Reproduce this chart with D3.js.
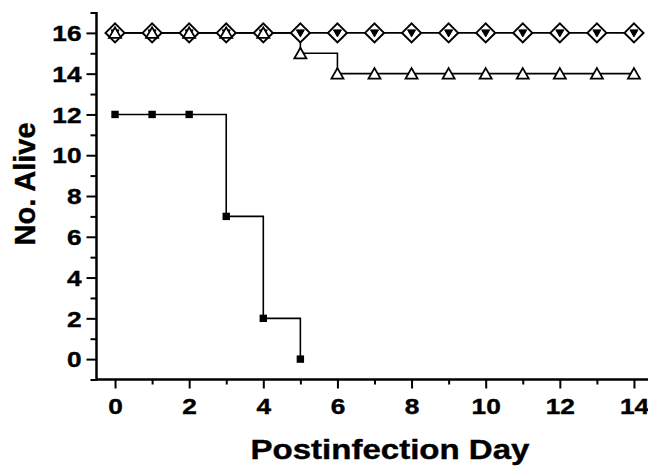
<!DOCTYPE html>
<html><head><meta charset="utf-8">
<script src="https://cdn.jsdelivr.net/npm/d3@7"></script>
<style>body{margin:0;background:#fff}svg{display:block}text{font-family:"Liberation Sans",Arial,sans-serif;font-weight:bold;fill:#000;stroke:#000;stroke-width:0.4px}</style>
</head><body>
<svg id="c" width="648" height="468"></svg>
<script>
const days = [0,1,2,3,4,5,6,7,8,9,10,11,12,13,14];
const diamondSeries = [16,16,16,16,16,16,16,16,16,16,16,16,16,16,16];
const downTriSeries = [16,16,16,16,16,16,16,16,16,16,16,16,16,16,16];
const upTriSeries   = [16,16,16,16,16,15,14,14,14,14,14,14,14,14,14];
const squareDays = [0,1,2,3,4,5];
const squareSeries = [12,12,12,7,2,0];
const xTicks = [0,2,4,6,8,10,12,14];
const yTicks = [0,2,4,6,8,10,12,14,16];
const xTitle = "Postinfection Day";
const yTitle = "No. Alive";

const svg = d3.select("#c");
const x = d3.scaleLinear().domain([-0.5,14.5]).range([96.5,652.5]);
const y = d3.scaleLinear().domain([-1,17]).range([379.5,12.5]);

// axes
const gx = svg.append("g").attr("transform","translate(0,379.5)");
gx.call(d3.axisBottom(x).tickValues(d3.range(1,14,2)).tickSize(5).tickFormat(""));
const gx2 = svg.append("g").attr("transform","translate(0,379.5)");
gx2.call(d3.axisBottom(x).tickValues(xTicks).tickSize(9).tickPadding(8).tickFormat(d3.format("d")));
[gx,gx2].forEach(g=>{g.select(".domain").attr("stroke","#000").attr("stroke-width",2).attr("d","M96.5,0H648");
  g.selectAll(".tick line").attr("stroke","#000").attr("stroke-width",2);});
gx2.selectAll(".tick text").attr("font-size",21.5).attr("dy","0.3em").attr("y",0)
  .attr("transform","translate(0,28.5) scale(1.22,1)");

const gy = svg.append("g").attr("transform","translate(96.5,0)");
gy.call(d3.axisLeft(y).tickValues(d3.range(-1,18,2)).tickSize(6).tickFormat(""));
const gy2 = svg.append("g").attr("transform","translate(96.5,0)");
gy2.call(d3.axisLeft(y).tickValues(yTicks).tickSize(10).tickPadding(5).tickFormat(d3.format("d")));
[gy,gy2].forEach(g=>{g.select(".domain").attr("stroke","#000").attr("stroke-width",2).attr("d","M0,12H0V380.5");
  g.selectAll(".tick line").attr("stroke","#000").attr("stroke-width",2);});
gy2.selectAll(".tick text").attr("font-size",21.5).attr("dy","0.36em").attr("x",0)
  .attr("transform","translate(-15,0) scale(1.22,1)");

// step lines
const line = d3.line().curve(d3.curveStepAfter).x(d=>x(d[0])).y(d=>y(d[1]));
function drawLine(xs, vals){
  svg.append("path").datum(xs.map((d,i)=>[d,vals[i]])).attr("d",line)
    .attr("fill","none").attr("stroke","#000").attr("stroke-width",1.6);
}
drawLine(days, diamondSeries);
drawLine(days, upTriSeries);
drawLine(squareDays, squareSeries);

// markers
svg.append("g").selectAll("path").data(days).join("path")
  .attr("transform",(d,i)=>`translate(${x(d)},${y(diamondSeries[i])})`)
  .attr("d","M0,-9.5L9.5,0L0,9.5L-9.5,0Z").attr("fill","#fff").attr("stroke","#000").attr("stroke-width",2);
svg.append("g").selectAll("path").data(days).join("path")
  .attr("transform",(d,i)=>`translate(${x(d)},${y(downTriSeries[i])})`)
  .attr("d","M-4,-3L4,-3L0,4Z").attr("fill","#000").attr("stroke","#000").attr("stroke-width",1);
svg.append("g").selectAll("path").data(days).join("path")
  .attr("transform",(d,i)=>`translate(${x(d)},${y(upTriSeries[i])})`)
  .attr("d","M0,-5.5L6,5L-6,5Z").attr("fill","#fff").attr("stroke","#000").attr("stroke-width",1.8);
svg.append("g").selectAll("rect").data(squareDays).join("rect")
  .attr("x",d=>x(d)-3.7).attr("y",(d,i)=>y(squareSeries[i])-3.7)
  .attr("width",7.4).attr("height",7.4).attr("fill","#000");

// titles
svg.append("text").attr("transform","translate(390,459) scale(1.18,1)").attr("text-anchor","middle")
  .attr("font-size",28).text(xTitle);
svg.append("text").attr("transform","translate(35,184) rotate(-90)").attr("text-anchor","middle")
  .attr("font-size",29).text(yTitle);
</script>
</body></html>
